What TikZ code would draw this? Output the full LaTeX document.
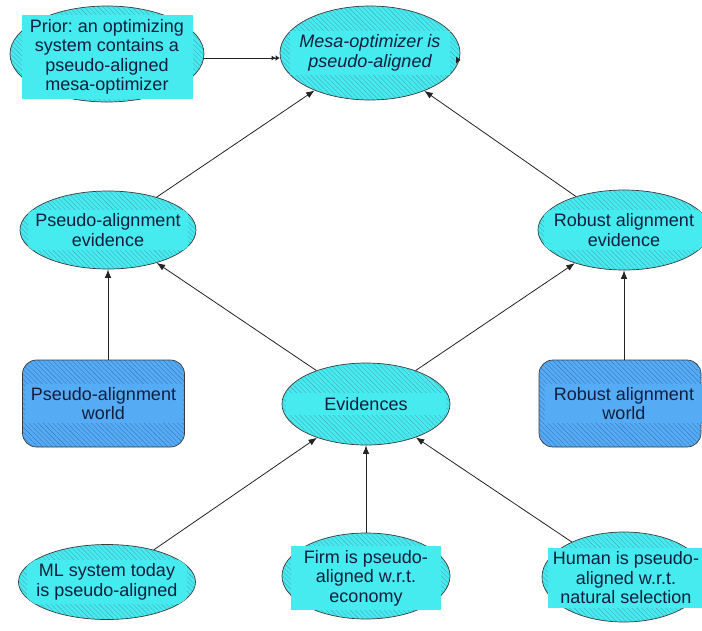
\documentclass[tikz,border=0pt]{standalone}
\usepackage{fontspec}
\setmainfont{Liberation Sans}
\usetikzlibrary{shapes.geometric,patterns.meta,arrows.meta}
\definecolor{cyanfill}{RGB}{70,235,240}
\definecolor{cyanhatch}{RGB}{70,170,182}
\definecolor{worldblue}{RGB}{85,172,245}
\definecolor{worldhatch}{RGB}{55,120,190}
\definecolor{txtcol}{RGB}{20,30,60}
\definecolor{bordercol}{RGB}{60,60,60}
\definecolor{arrcol}{RGB}{35,35,35}
\tikzset{
  ell/.style={ellipse, draw=bordercol, line width=0.7pt, preaction={fill=cyanfill},
    pattern={Lines[angle=-45,distance=3.4pt,line width=0.4pt]}, pattern color=cyanhatch,
    inner sep=0pt},
  world/.style={rectangle, rounded corners=14pt, draw=bordercol, line width=0.7pt,
    preaction={fill=worldblue},
    pattern={Lines[angle=-45,distance=3.4pt,line width=0.4pt]}, pattern color=worldhatch,
    minimum width=162pt, minimum height=87pt, inner sep=0pt},
  lbl/.style={fill=cyanfill, text=txtcol, align=center, inner xsep=5pt, inner ysep=4pt,
    font=\fontsize{18pt}{19.5pt}\selectfont},
  wlbl/.style={fill=worldblue, text=txtcol, align=center, inner xsep=0pt, inner ysep=3.5pt,
    minimum width=158pt, font=\fontsize{18pt}{19.5pt}\selectfont},
  arr/.style={draw=arrcol, line width=0.8pt, -{Latex[length=8.5pt,width=6.5pt]}},
}
\begin{document}
\frenchspacing
\begin{tikzpicture}[x=1pt,y=-1pt]
\clip (0,0) rectangle (702,630);
\fill[white] (0,0) rectangle (702,630);

% ellipses
\node[ell, minimum width=194pt, minimum height=96pt] (prior) at (107,54) {};
\node[ell, minimum width=180pt, minimum height=94pt] (mesa) at (370,53) {};
\node[ell, minimum width=176pt, minimum height=78pt] (pe) at (108,230) {};
\node[ell, minimum width=172pt, minimum height=80pt] (re) at (624,230) {};
\node[ell, minimum width=168pt, minimum height=82pt] (ev) at (366,404) {};
\node[ell, minimum width=177pt, minimum height=75pt] (ml) at (107,582) {};
\node[ell, minimum width=168pt, minimum height=86pt] (firm) at (366,576) {};
\node[ell, minimum width=164pt, minimum height=90pt] (human) at (624,577) {};

% world boxes
\node[world] (pw) at (103.5,403.5) {};
\node[world] (rw) at (620,403.5) {};

% labels
\node[lbl, minimum width=171pt] (priort) at (107,57) {Prior: an optimizing\\system contains a\\pseudo-aligned\\mesa-optimizer};
\begin{scope}
\clip (mesa.center) ellipse (90pt and 47pt);
\node[lbl, minimum width=160pt, font=\fontsize{18pt}{19.5pt}\selectfont\itshape] (mesat) at (mesa) {Mesa-optimizer is\\pseudo-aligned};
\end{scope}
\begin{scope}
\clip (pe.center) ellipse (88pt and 39pt);
\node[lbl, minimum width=160pt] (pet) at (pe) {Pseudo-alignment\\evidence};
\end{scope}
\begin{scope}
\clip (re.center) ellipse (86pt and 40pt);
\node[lbl, minimum width=160pt] (ret) at (re) {Robust alignment\\evidence};
\end{scope}
\begin{scope}
\clip (ev.center) ellipse (84pt and 41pt);
\node[lbl, minimum width=160pt] (evt) at (ev) {Evidences};
\end{scope}
\begin{scope}
\clip (ml.center) ellipse (88.5pt and 37.5pt);
\node[lbl, minimum width=160pt] (mlt) at (ml) {ML system today\\is pseudo-aligned};
\end{scope}
\node[lbl, minimum width=150pt] (firmt) at (366,578) {Firm is pseudo-\\aligned w.r.t.\\economy};
\node[lbl, minimum width=150pt] (humant) at (626,578) {Human is pseudo-\\aligned w.r.t.\\natural selection};
\node[wlbl] (pwt) at (pw) {Pseudo-alignment\\world};
\node[wlbl] (rwt) at ([xshift=4pt]rw.center) {Robust alignment\\world};

% connectors
\draw[draw=arrcol, line width=0.8pt, -{Latex[length=4pt,width=5pt]Latex[length=4pt,width=6pt]}] (prior.east |- 0,58) -- (mesa.west |- 0,58);
\draw[arr] (pe) -- (mesa);
\draw[arr] (re) -- (mesa);
\draw[arr] (pw.north -| pe.center) -- (pe);
\draw[arr] (rw.north -| re.center) -- (re);
\draw[arr] (ev) -- (pe);
\draw[arr] (ev) -- (re);
\draw[arr] (ml) -- (ev);
\draw[arr] (firm) -- (ev);
\draw[arr] (human) -- (ev);

% small mark at right of mesa node
\fill[arrcol] (456,56.5) -- (460.5,60) -- (456,63.5) -- cycle;
\end{tikzpicture}
\end{document}
